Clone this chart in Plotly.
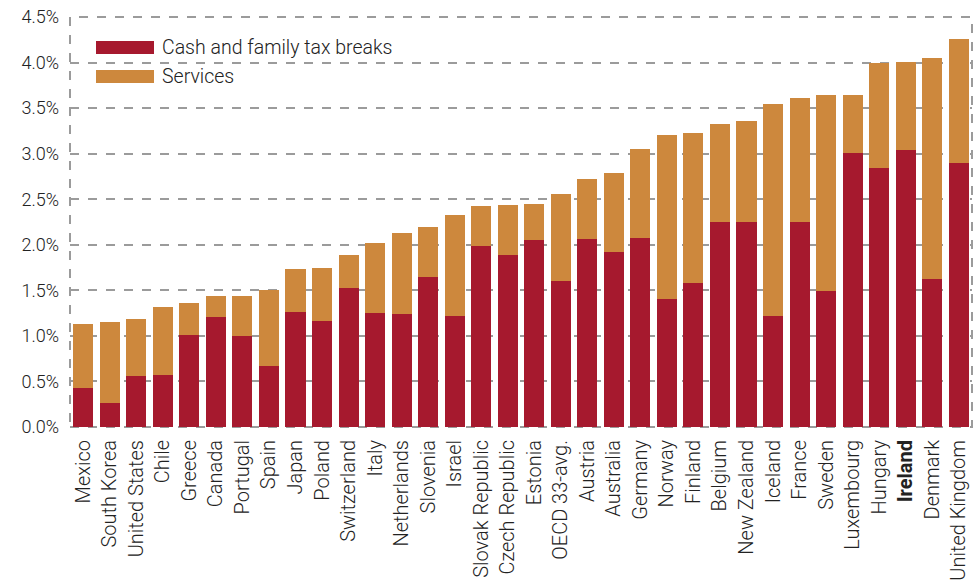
import plotly.graph_objects as go

countries = [
    "Mexico", "South Korea", "United States", "Chile", "Greece", "Canada",
    "Portugal", "Spain", "Japan", "Poland", "Switzerland", "Italy",
    "Netherlands", "Slovenia", "Israel", "Slovak Republic", "Czech Republic",
    "Estonia", "OECD 33-avg.", "Austria", "Australia", "Germany", "Norway",
    "Finland", "Belgium", "New Zealand", "Iceland", "France", "Sweden",
    "Luxembourg", "Hungary", "Ireland", "Denmark", "United Kingdom",
]
# % of GDP
cash = [
    0.43, 0.26, 0.56, 0.57, 1.01, 1.21, 1.00, 0.67, 1.26, 1.16, 1.53, 1.25,
    1.24, 1.65, 1.22, 1.99, 1.89, 2.05, 1.60, 2.06, 1.92, 2.07, 1.40, 1.58,
    2.25, 2.25, 1.22, 2.25, 1.49, 3.01, 2.84, 3.04, 1.62, 2.90,
]
total = [
    1.13, 1.15, 1.19, 1.32, 1.36, 1.44, 1.44, 1.50, 1.73, 1.75, 1.89, 2.02,
    2.13, 2.20, 2.33, 2.43, 2.44, 2.45, 2.56, 2.72, 2.79, 3.05, 3.20, 3.23,
    3.33, 3.36, 3.55, 3.61, 3.64, 3.64, 4.00, 4.01, 4.05, 4.26,
]
services = [round(t - c, 2) for t, c in zip(total, cash)]

RED = "#A6192E"
ORANGE = "#CD883D"
GRID = "#9b9b9b"
FONT = "Roboto"

ticktext = [f"<b>{c}</b>" if c == "Ireland" else c for c in countries]

fig = go.Figure()
fig.add_trace(go.Bar(x=countries, y=cash, name="Cash and family tax breaks",
                     marker=dict(color=RED, line=dict(width=0))))
fig.add_trace(go.Bar(x=countries, y=services, name="Services",
                     marker=dict(color=ORANGE, line=dict(width=0))))

fig.update_layout(
    barmode="stack",
    bargap=0.245,
    width=979,
    height=588,
    margin=dict(l=70, r=7, t=17, b=161),
    plot_bgcolor="white",
    paper_bgcolor="white",
    showlegend=False,
    hovermode=False,
    font=dict(family=FONT, size=17, color="#222222", weight=300),
)
fig.update_xaxes(
    tickmode="array", tickvals=countries, ticktext=ticktext,
    tickangle=-90, ticks="", showgrid=False, showline=False,
    tickfont=dict(size=20, weight=300), automargin=False,
    ticklabelstandoff=8,
)
fig.update_yaxes(
    range=[0, 4.5], dtick=0.5, tickformat=".1f", ticksuffix="%",
    showgrid=True, gridcolor=GRID, gridwidth=2, griddash="dash",
    zeroline=False, showline=False, ticks="", ticklen=0,
    tickfont=dict(size=18, weight=300), automargin=False,
    ticklabelstandoff=10,
)

# dashed frame around the plot area
fig.add_shape(type="rect", xref="x domain", yref="y domain",
              x0=0, x1=1, y0=0, y1=1,
              line=dict(color=GRID, width=2, dash="dash"), layer="below")

# hand-drawn legend with wide swatches
legend_items = [("Cash and family tax breaks", RED), ("Services", ORANGE)]
for i, (label, color) in enumerate(legend_items):
    yc = 47.5 + i * 29
    fig.add_shape(type="rect", xref="paper", yref="paper",
                  x0=(96 - 70) / 902, x1=(154 - 70) / 902,
                  y0=1 - (yc - 17 + 6.5) / 410, y1=1 - (yc - 17 - 6.5) / 410,
                  line=dict(width=0), fillcolor=color)
    fig.add_annotation(xref="paper", yref="paper",
                       x=(160 - 70) / 902, y=1 - (yc - 17) / 410,
                       text=label, showarrow=False, xanchor="left",
                       yanchor="middle", font=dict(size=19.5, weight=300))

fig.write_html("out.html", config={"displayModeBar": False},
               post_script="document.body.style.margin='0';")
